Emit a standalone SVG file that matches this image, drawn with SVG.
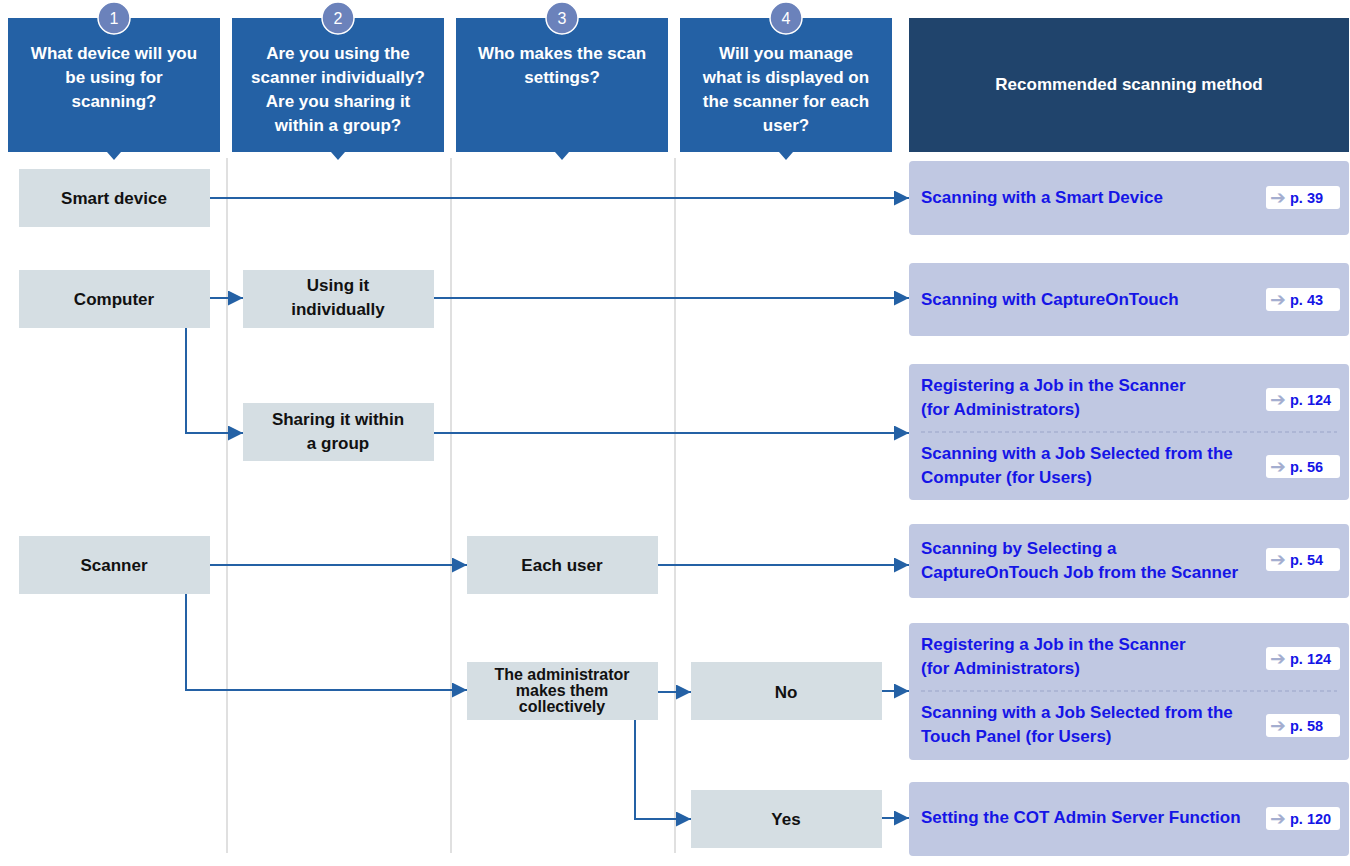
<svg xmlns="http://www.w3.org/2000/svg" width="1350" height="866" viewBox="0 0 1350 866">
<defs>
<style>
.hdr{fill:#2461a5}
.hdr5{fill:#20446c}
.num{fill:#6b82bb;stroke:#fff;stroke-width:1.5}
.numt{font-family:"Liberation Sans",Arial,sans-serif;font-size:16px;fill:#fff;text-anchor:middle}
.ht{font-family:"Liberation Sans",Arial,sans-serif;font-size:17px;font-weight:bold;fill:#fff;text-anchor:middle}
.node{fill:#d5dee3}
.nt{font-family:"Liberation Sans",Arial,sans-serif;font-size:17px;font-weight:bold;fill:#111;text-anchor:middle}
.nts{font-family:"Liberation Sans",Arial,sans-serif;font-size:16px;font-weight:bold;fill:#111;text-anchor:middle}
.res{fill:#c0c8e2}
.rt{font-family:"Liberation Sans",Arial,sans-serif;font-size:17px;font-weight:bold;fill:#1515e6}
.badge{fill:#fff}
.bt{font-family:"Liberation Sans",Arial,sans-serif;font-size:14.5px;font-weight:bold;fill:#1515e6}
.ba{fill:#a4aed0;font-family:"DejaVu Sans",sans-serif;font-size:19px;font-weight:bold}
.vl{stroke:#d6d6d6;stroke-width:1.5;fill:none}
.cn{stroke:#2461a5;stroke-width:2;fill:none}
.dash{stroke:#9aa4c8;stroke-width:1;stroke-dasharray:4 3;fill:none}
</style>
<marker id="ah" viewBox="0 0 10 10" refX="10" refY="5" markerWidth="7.5" markerHeight="7.5" markerUnits="strokeWidth" orient="auto">
<path d="M0,0 L10,5 L0,10 z" fill="#2461a5"/>
</marker>
</defs>
<rect width="1350" height="866" fill="#fff"/>
<g id="gridlines">
<line class="vl" x1="227" y1="158" x2="227" y2="853"/>
<line class="vl" x1="451" y1="158" x2="451" y2="853"/>
<line class="vl" x1="675" y1="158" x2="675" y2="853"/>
</g>
<g id="header1">
<rect class="hdr" x="8" y="18" width="212" height="134"/>
<path class="hdr" d="M107,152 L121,152 L114,160 z"/>
<circle class="num" cx="114" cy="18" r="16"/>
<text class="numt" x="114" y="24">1</text>
<text class="ht" x="114" y="59">What device will you</text>
<text class="ht" x="114" y="83">be using for</text>
<text class="ht" x="114" y="107">scanning?</text>
</g>
<g id="header2">
<rect class="hdr" x="232" y="18" width="212" height="134"/>
<path class="hdr" d="M331,152 L345,152 L338,160 z"/>
<circle class="num" cx="338" cy="18" r="16"/>
<text class="numt" x="338" y="24">2</text>
<text class="ht" x="338" y="59">Are you using the</text>
<text class="ht" x="338" y="83">scanner individually?</text>
<text class="ht" x="338" y="107">Are you sharing it</text>
<text class="ht" x="338" y="131">within a group?</text>
</g>
<g id="header3">
<rect class="hdr" x="456" y="18" width="212" height="134"/>
<path class="hdr" d="M555,152 L569,152 L562,160 z"/>
<circle class="num" cx="562" cy="18" r="16"/>
<text class="numt" x="562" y="24">3</text>
<text class="ht" x="562" y="59">Who makes the scan</text>
<text class="ht" x="562" y="83">settings?</text>
</g>
<g id="header4">
<rect class="hdr" x="680" y="18" width="212" height="134"/>
<path class="hdr" d="M779,152 L793,152 L786,160 z"/>
<circle class="num" cx="786" cy="18" r="16"/>
<text class="numt" x="786" y="24">4</text>
<text class="ht" x="786" y="59">Will you manage</text>
<text class="ht" x="786" y="83">what is displayed on</text>
<text class="ht" x="786" y="107">the scanner for each</text>
<text class="ht" x="786" y="131">user?</text>
</g>
<g id="header5">
<rect class="hdr5" x="909" y="18" width="440" height="134"/>
<text class="ht" x="1129" y="90">Recommended scanning method</text>
</g>
<g id="connectors">
<path class="cn" marker-end="url(#ah)" d="M210,198 L909,198"/>
<path class="cn" marker-end="url(#ah)" d="M210,298 L243,298"/>
<path class="cn" marker-end="url(#ah)" d="M434,298 L909,298"/>
<path class="cn" marker-end="url(#ah)" d="M186,328 L186,433 L243,433"/>
<path class="cn" marker-end="url(#ah)" d="M434,433 L909,433"/>
<path class="cn" marker-end="url(#ah)" d="M210,565 L467,565"/>
<path class="cn" marker-end="url(#ah)" d="M658,565 L909,565"/>
<path class="cn" marker-end="url(#ah)" d="M186,594 L186,690 L467,690"/>
<path class="cn" marker-end="url(#ah)" d="M658,692 L691,692"/>
<path class="cn" marker-end="url(#ah)" d="M882,691 L909,691"/>
<path class="cn" marker-end="url(#ah)" d="M635,720 L635,819 L691,819"/>
<path class="cn" marker-end="url(#ah)" d="M882,818 L909,818"/>
</g>
<g id="n-smart">
<rect class="node" x="19" y="169" width="191" height="58"/>
<text class="nt" x="114" y="204">Smart device</text>
</g>
<g id="n-computer">
<rect class="node" x="19" y="270" width="191" height="58"/>
<text class="nt" x="114" y="305">Computer</text>
</g>
<g id="n-individually">
<rect class="node" x="243" y="270" width="191" height="58"/>
<text class="nt" x="338" y="291">Using it</text>
<text class="nt" x="338" y="315">individually</text>
</g>
<g id="n-sharing">
<rect class="node" x="243" y="403" width="191" height="58"/>
<text class="nt" x="338" y="425">Sharing it within</text>
<text class="nt" x="338" y="449">a group</text>
</g>
<g id="n-scanner">
<rect class="node" x="19" y="536" width="191" height="58"/>
<text class="nt" x="114" y="571">Scanner</text>
</g>
<g id="n-eachuser">
<rect class="node" x="467" y="536" width="191" height="58"/>
<text class="nt" x="562" y="571">Each user</text>
</g>
<g id="n-admin">
<rect class="node" x="467" y="662" width="191" height="58"/>
<text class="nts" x="562" y="680">The administrator</text>
<text class="nts" x="562" y="696">makes them</text>
<text class="nts" x="562" y="712">collectively</text>
</g>
<g id="n-no">
<rect class="node" x="691" y="662" width="191" height="58"/>
<text class="nt" x="786" y="698">No</text>
</g>
<g id="n-yes">
<rect class="node" x="691" y="790" width="191" height="58"/>
<text class="nt" x="786" y="825">Yes</text>
</g>
<g id="r-smart">
<rect class="res" x="909" y="161" width="440" height="74" rx="4"/>
<text class="rt" x="921" y="203">Scanning with a Smart Device</text>
<rect class="badge" x="1266" y="186" width="74" height="23" rx="3"/>
<text x="1270" y="204"><tspan class="ba">➔</tspan><tspan class="bt" x="1290" y="203">p. 39</tspan></text>
</g>
<g id="r-cot">
<rect class="res" x="909" y="263" width="440" height="73" rx="4"/>
<text class="rt" x="921" y="305">Scanning with CaptureOnTouch</text>
<rect class="badge" x="1266" y="288" width="74" height="23" rx="3"/>
<text x="1270" y="306"><tspan class="ba">➔</tspan><tspan class="bt" x="1290" y="305">p. 43</tspan></text>
</g>
<g id="r-group">
<rect class="res" x="909" y="364" width="440" height="136" rx="4"/>
<text class="rt" x="921" y="391">Registering a Job in the Scanner</text>
<text class="rt" x="921" y="415">(for Administrators)</text>
<rect class="badge" x="1266" y="388" width="74" height="23" rx="3"/>
<text x="1270" y="406"><tspan class="ba">➔</tspan><tspan class="bt" x="1290" y="405">p. 124</tspan></text>
<line class="dash" x1="921" y1="432" x2="1337" y2="432"/>
<text class="rt" x="921" y="459">Scanning with a Job Selected from the</text>
<text class="rt" x="921" y="483">Computer (for Users)</text>
<rect class="badge" x="1266" y="455" width="74" height="23" rx="3"/>
<text x="1270" y="473"><tspan class="ba">➔</tspan><tspan class="bt" x="1290" y="472">p. 56</tspan></text>
</g>
<g id="r-eachuser">
<rect class="res" x="909" y="524" width="440" height="74" rx="4"/>
<text class="rt" x="921" y="554">Scanning by Selecting a</text>
<text class="rt" x="921" y="578">CaptureOnTouch Job from the Scanner</text>
<rect class="badge" x="1266" y="548" width="74" height="23" rx="3"/>
<text x="1270" y="566"><tspan class="ba">➔</tspan><tspan class="bt" x="1290" y="565">p. 54</tspan></text>
</g>
<g id="r-no">
<rect class="res" x="909" y="623" width="440" height="137" rx="4"/>
<text class="rt" x="921" y="650">Registering a Job in the Scanner</text>
<text class="rt" x="921" y="674">(for Administrators)</text>
<rect class="badge" x="1266" y="647" width="74" height="23" rx="3"/>
<text x="1270" y="665"><tspan class="ba">➔</tspan><tspan class="bt" x="1290" y="664">p. 124</tspan></text>
<line class="dash" x1="921" y1="691" x2="1337" y2="691"/>
<text class="rt" x="921" y="718">Scanning with a Job Selected from the</text>
<text class="rt" x="921" y="742">Touch Panel (for Users)</text>
<rect class="badge" x="1266" y="714" width="74" height="23" rx="3"/>
<text x="1270" y="732"><tspan class="ba">➔</tspan><tspan class="bt" x="1290" y="731">p. 58</tspan></text>
</g>
<g id="r-yes">
<rect class="res" x="909" y="782" width="440" height="74" rx="4"/>
<text class="rt" x="921" y="823">Setting the COT Admin Server Function</text>
<rect class="badge" x="1266" y="807" width="74" height="23" rx="3"/>
<text x="1270" y="825"><tspan class="ba">➔</tspan><tspan class="bt" x="1290" y="824">p. 120</tspan></text>
</g>
</svg>
